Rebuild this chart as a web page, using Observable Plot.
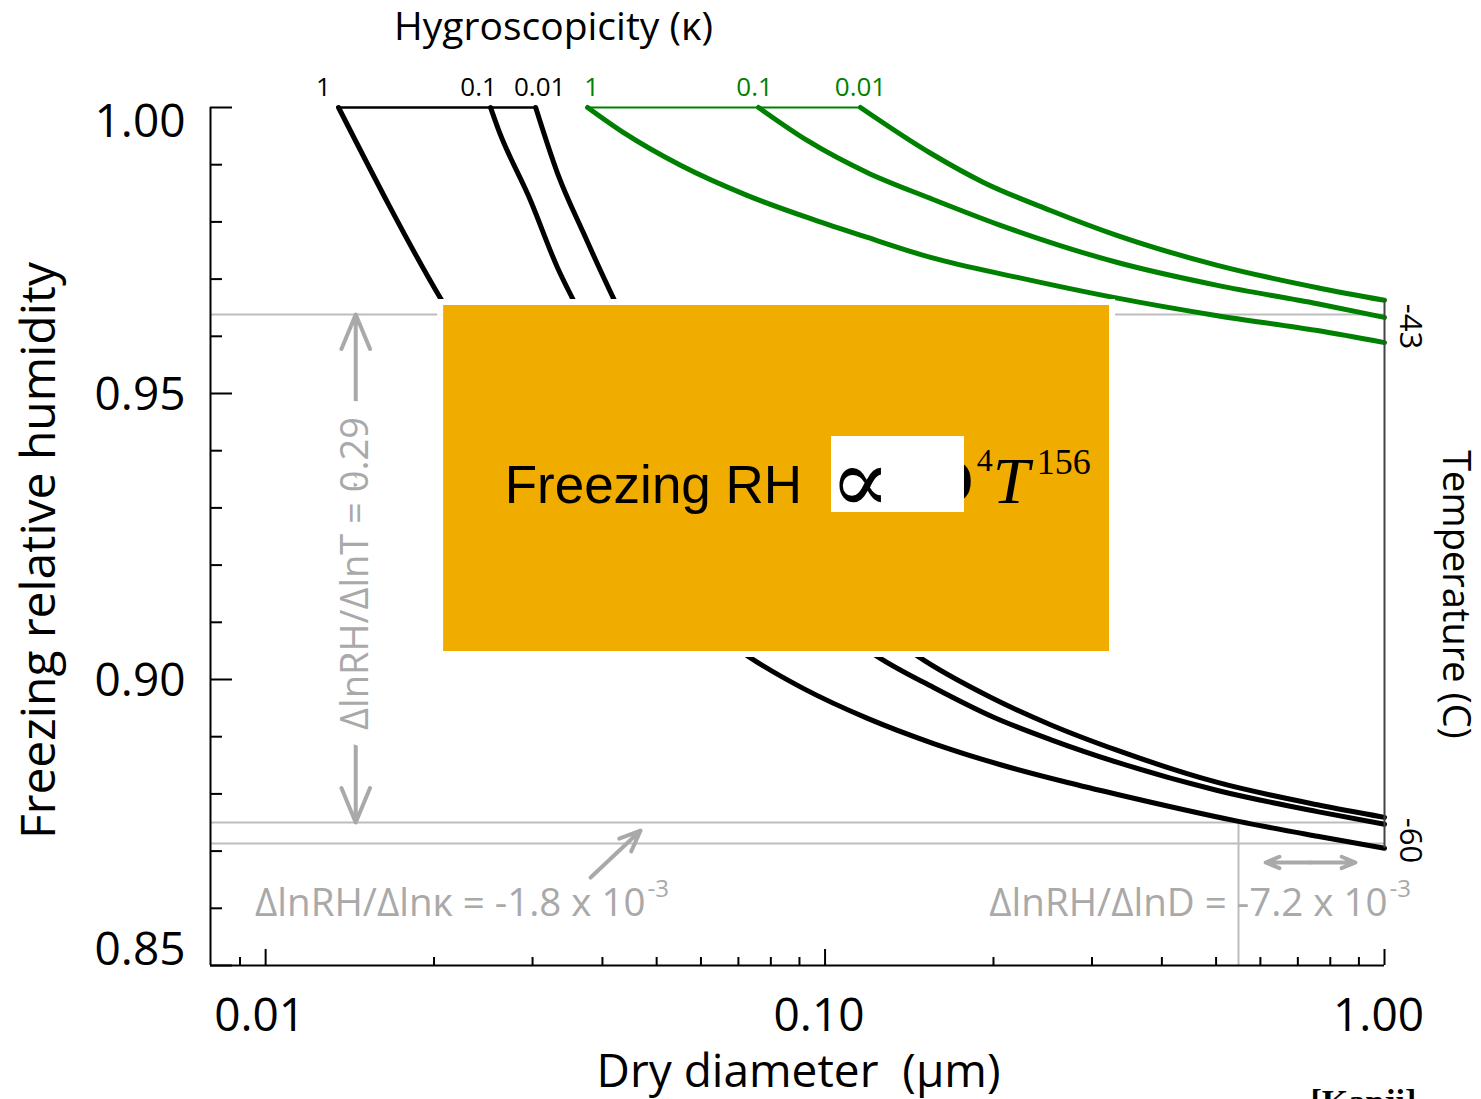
<!DOCTYPE html>
<html>
<head>
<meta charset="utf-8">
<script src="https://cdn.jsdelivr.net/npm/d3@7"></script>
<script src="https://cdn.jsdelivr.net/npm/@observablehq/plot@0.6"></script>
<style>
  html, body { margin: 0; padding: 0; background: #ffffff; }
  #chart svg { display: block; }
</style>
</head>
<body>
<div id="chart"></div>
<script>
// ---------- data: [dry diameter (µm), freezing RH] ----------
const black1   = [[0.01350,1.0000],[0.02055,0.9666],[0.07301,0.9040],[0.09155,0.8984],[0.1191,0.8932],[0.1563,0.8888],[0.2059,0.8851],[0.2713,0.8820],[0.3333,0.8799],[0.5483,0.8752],[0.7589,0.8726],[1.0,0.8705]];
const black01  = [[0.02524,1.0000],[0.02599,0.9965],[0.02976,0.9837],[0.03325,0.9720],[0.03537,0.9666],[0.1241,0.9040],[0.1563,0.8986],[0.2001,0.8934],[0.2529,0.8895],[0.3333,0.8855],[0.5029,0.8806],[0.7589,0.8769],[1.0,0.8747]];
const black001 = [[0.03039,1.0000],[0.03325,0.9885],[0.03702,0.9780],[0.04188,0.9666],[0.1469,0.9040],[0.1976,0.8969],[0.2529,0.8921],[0.3333,0.8876],[0.5029,0.8820],[0.7589,0.8781],[1.0,0.8759]];
const green1   = [[0.03763,1.0000],[0.04364,0.9956],[0.05516,0.9899],[0.07271,0.9846],[0.09537,0.9804],[0.1172,0.9775],[0.1544,0.9738],[0.2208,0.9703],[0.3278,0.9668],[0.5029,0.9636],[0.7589,0.9610],[1.0,0.9589]];
const green01  = [[0.07605,1.0000],[0.09305,0.9942],[0.1191,0.9886],[0.1544,0.9841],[0.2059,0.9794],[0.3333,0.9729],[0.5029,0.9689],[0.7589,0.9657],[1.0,0.9633]];
const green001 = [[0.1157,1.0000],[0.1544,0.9920],[0.1920,0.9869],[0.2529,0.9820],[0.3333,0.9776],[0.5029,0.9724],[0.7589,0.9685],[1.0,0.9663]];

const kappaLabels = ["1", "0.1", "0.01"];
const temperatureLabels = ["-43", "-60"];

const yMajorTicks = [0.85, 0.90, 0.95, 1.00];
const yMinorTicks = [0.86,0.87,0.88,0.89,0.91,0.92,0.93,0.94,0.96,0.97,0.98,0.99];
const xMajorTicks = [0.01, 0.1, 1];
const xMinorTicks = [0.009,0.02,0.03,0.04,0.05,0.06,0.07,0.08,0.09,0.2,0.3,0.4,0.5,0.6,0.7,0.8,0.9];
const xDomain = [0.00797, 1];
const yDomain = [0.85, 1.0];

// reference lines (RH) and annotation anchors
const greyRH = [0.96381, 0.8750, 0.87133];
const greyD = [0.5483];
const boxExtent = [{D1: 0.02055, D2: 0.3265, RH1: 0.96591, RH2: 0.90437}];
const maskExtent = [{D1: 0.1027, D2: 0.1775, RH1: 0.94248, RH2: 0.92920}];
const arrowT = [{D: 0.01449, top: 0.96381, bottom: 0.8750}];
const arrowK = [{D1: 0.0381, RH1: 0.86538, D2: 0.0468, RH2: 0.8736}];
const arrowD = [{D1: 0.6129, D2: 0.8874, RH: 0.86801}];

// ---------- layout / styles ----------
const W = 1481, H = 1099;
const mL = 210, mR = 97, mT = 107, mB = 134;
const frameW = W - mL - mR, frameH = H - mT - mB;
const GREEN = "#008000", GREY = "#bdbdbd", GREYTXT = "#a9a9a9", ORANGE = "#F0AD00";
const SANS = "'Open Sans', 'Noto Sans', sans-serif";
const SERIF = "'Liberation Serif', serif";
const C = {textAnchor: "middle", lineAnchor: "middle"};

const curves = [
  {set: "black", kappa: kappaLabels[0], pts: black1, dx: -15},
  {set: "black", kappa: kappaLabels[1], pts: black01, dx: -12},
  {set: "black", kappa: kappaLabels[2], pts: black001, dx: 4},
  {set: "green", kappa: kappaLabels[0], pts: green1, dx: 4},
  {set: "green", kappa: kappaLabels[1], pts: green01, dx: -4},
  {set: "green", kappa: kappaLabels[2], pts: green001, dx: 0}
];
const colorOf = s => s === "black" ? "#000000" : GREEN;
const rows = curves.flatMap(c => c.pts.map(([D, RH]) => ({D, RH, id: c.set + c.kappa, set: c.set})));
const starts = set => curves.filter(c => c.set === set).map(c => c.pts[0]).sort((a, b) => a[0] - b[0]);
const fmt2 = d3.format(".2f");

const box = boxExtent[0];
const boxMid = (box.RH1 + box.RH2) / 2;
const arrowStyle = {stroke: GREYTXT, strokeWidth: 4, headLength: 14, headAngle: 45};

const marks = [
  // grey reference lines
  Plot.ruleY(greyRH, {y: d => d, stroke: GREY, strokeWidth: 2}),
  Plot.ruleX(greyD, {x: d => d, y1: yDomain[0], y2: greyRH[1], stroke: GREY, strokeWidth: 2}),
  // curves
  Plot.line(rows, {x: "D", y: "RH", z: "id", stroke: d => colorOf(d.set), strokeWidth: 5, curve: "monotone-x"}),
  // connectors at RH = 1
  Plot.line(starts("black"), {x: d => d[0], y: d => d[1], stroke: "#000", strokeWidth: 2.5}),
  Plot.line(starts("green"), {x: d => d[0], y: d => d[1], stroke: GREEN, strokeWidth: 2}),
  // kappa labels
  ...curves.map(c => Plot.text([c.pts[0]], {x: d => d[0], y: d => d[1], text: () => c.kappa, dx: c.dx, dy: -20, fill: colorOf(c.set), fontSize: 26, fontFamily: SANS})),
  // orange box and formula
  Plot.rect(boxExtent, {x1: "D1", x2: "D2", y1: "RH1", y2: "RH2", fill: ORANGE, stroke: "white", strokeWidth: 6}),
  Plot.text(boxExtent, {x: "D1", y: () => boxMid, text: () => "Freezing RH", dx: 64, dy: 8, textAnchor: "start", fontSize: 53, fontFamily: "'Liberation Sans', Arial, sans-serif", fill: "#000"}),
  Plot.text(boxExtent, {x: "D1", y: () => boxMid, text: () => "D", dx: 485, dy: 3, textAnchor: "start", fontSize: 66, fontFamily: SERIF, fill: "#000"}),
  Plot.rect(maskExtent, {x1: "D1", x2: "D2", y1: "RH1", y2: "RH2", fill: "white"}),
  Plot.text(boxExtent, {x: "D1", y: () => boxMid, text: () => "∝", dx: 389, dy: 5, textAnchor: "start", fontSize: 90, fontFamily: "'DejaVu Serif', serif", fill: "#000"}),
  Plot.text(boxExtent, {x: "D1", y: () => boxMid, text: () => "4", dx: 536, dy: -18, textAnchor: "start", fontSize: 32, fontFamily: SERIF, fill: "#000"}),
  Plot.text(boxExtent, {x: "D1", y: () => boxMid, text: () => "T", dx: 552, dy: 3, textAnchor: "start", fontSize: 66, fontStyle: "italic", fontFamily: SERIF, fill: "#000"}),
  Plot.text(boxExtent, {x: "D1", y: () => boxMid, text: () => "156", dx: 596, dy: -16, textAnchor: "start", fontSize: 36, fontFamily: SERIF, fill: "#000"}),
  // axes lines
  Plot.ruleX([xDomain[0]], {stroke: "#000", strokeWidth: 2}),
  Plot.ruleY([yDomain[0]], {stroke: "#000", strokeWidth: 2}),
  // right temperature rule
  Plot.ruleX([1], {y1: green001[green001.length - 1][1], y2: black1[black1.length - 1][1], stroke: "#444", strokeWidth: 2}),
  // inward ticks
  Plot.tickY(yMinorTicks, {y: d => d, insetRight: frameW - 12, stroke: "#000", strokeWidth: 2}),
  Plot.tickY(yMajorTicks, {y: d => d, insetRight: frameW - 22, stroke: "#000", strokeWidth: 2}),
  Plot.tickX(xMinorTicks, {x: d => d, insetTop: frameH - 8, stroke: "#000", strokeWidth: 2}),
  Plot.tickX(xMajorTicks, {x: d => d, insetTop: frameH - 16, stroke: "#000", strokeWidth: 2}),
  // tick labels
  Plot.axisY([1.00], {anchor: "left", tickSize: 0, tickPadding: 25, tickFormat: fmt2, fontSize: 46, fontFamily: SANS, dy: 15, label: null}),
  Plot.axisY([0.95, 0.90], {anchor: "left", tickSize: 0, tickPadding: 25, tickFormat: fmt2, fontSize: 46, fontFamily: SANS, dy: 2, label: null}),
  Plot.axisY([0.85], {anchor: "left", tickSize: 0, tickPadding: 25, tickFormat: fmt2, fontSize: 46, fontFamily: SANS, dy: -15, label: null}),
  Plot.axisX(xMajorTicks, {anchor: "bottom", tickSize: 0, tickPadding: 33, tickFormat: fmt2, fontSize: 46, fontFamily: SANS, dx: -6, label: null}),
  // axis titles
  Plot.text(["Freezing relative humidity"], {...C, frameAnchor: "left", text: d => d, rotate: -90, dx: -171, dy: 14, fontSize: 48, fontFamily: SANS, fill: "#000"}),
  Plot.text(["Dry diameter\u00a0\u00a0(μm)"], {...C, frameAnchor: "bottom", text: d => d, dx: 1, dy: 107, fontSize: 46, fontFamily: SANS, fill: "#000"}),
  Plot.text(["Hygroscopicity (κ)"], {...C, frameAnchor: "top-left", text: d => d, dx: 343, dy: -80, fontSize: 39, fontFamily: SANS, fill: "#000"}),
  Plot.text(["Temperature (C)"], {...C, frameAnchor: "right", text: d => d, rotate: 90, dx: 71, dy: 58, fontSize: 38, fontFamily: SANS, fill: "#000"}),
  Plot.text([temperatureLabels[0]], {...C, frameAnchor: "top-right", text: d => d, rotate: 90, dx: 25, dy: 219, fontSize: 31, fontFamily: SANS, fill: "#000"}),
  Plot.text([temperatureLabels[1]], {...C, frameAnchor: "top-right", text: d => d, rotate: 90, dx: 25, dy: 733, fontSize: 31, fontFamily: SANS, fill: "#000"}),
  // annotations: temperature sensitivity
  Plot.arrow(arrowT, {x1: "D", x2: "D", y1: d => (d.top + d.bottom) / 2, y2: "top", ...arrowStyle}),
  Plot.arrow(arrowT, {x1: "D", x2: "D", y1: d => (d.top + d.bottom) / 2, y2: "bottom", ...arrowStyle}),
  Plot.text(arrowT, {x: "D", y: d => (d.top + d.bottom) / 2, text: () => "ΔlnRH/ΔlnT = 0.29", rotate: -90, dy: 5, fontSize: 38, fontFamily: SANS, fill: GREYTXT, stroke: "white", strokeWidth: 36}),
  // kappa sensitivity
  Plot.arrow(arrowK, {x1: "D1", y1: "RH1", x2: "D2", y2: "RH2", ...arrowStyle}),
  Plot.text(["ΔlnRH/Δlnκ = -1.8 x 10"], {frameAnchor: "bottom-left", text: d => d, textAnchor: "end", lineAnchor: "middle", dx: 435, dy: -62, fontSize: 38.5, fontFamily: SANS, fill: GREYTXT}),
  Plot.text(["-3"], {frameAnchor: "bottom-left", text: d => d, textAnchor: "start", lineAnchor: "middle", dx: 437, dy: -76, fontSize: 24, fontFamily: SANS, fill: GREYTXT}),
  // diameter sensitivity
  Plot.arrow(arrowD, {x1: d => Math.sqrt(d.D1 * d.D2), x2: "D1", y1: "RH", y2: "RH", ...arrowStyle}),
  Plot.arrow(arrowD, {x1: d => Math.sqrt(d.D1 * d.D2), x2: "D2", y1: "RH", y2: "RH", ...arrowStyle}),
  Plot.text(["ΔlnRH/ΔlnD = -7.2 x 10"], {frameAnchor: "bottom-right", text: d => d, textAnchor: "end", lineAnchor: "middle", dx: 3, dy: -62, fontSize: 38.5, fontFamily: SANS, fill: GREYTXT}),
  Plot.text(["-3"], {frameAnchor: "bottom-right", text: d => d, textAnchor: "start", lineAnchor: "middle", dx: 5, dy: -76, fontSize: 24, fontFamily: SANS, fill: GREYTXT}),
  // citation (cut off at the bottom edge, as in the reference)
  Plot.text(["[Kanji]"], {frameAnchor: "bottom-right", text: d => d, textAnchor: "start", lineAnchor: "middle", dx: -74, dy: 137, fontSize: 34, fontWeight: "bold", fontFamily: SERIF, fill: "#000"})
];

const chart = Plot.plot({
  width: W, height: H,
  marginLeft: mL, marginRight: mR, marginTop: mT, marginBottom: mB,
  style: {fontFamily: SANS, background: "white", overflow: "visible"},
  x: {type: "log", domain: xDomain},
  y: {domain: yDomain},
  marks
});
document.getElementById("chart").appendChild(chart);
</script>
</body>
</html>
